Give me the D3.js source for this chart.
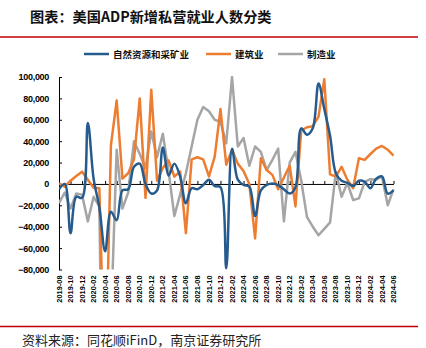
<!DOCTYPE html>
<html>
<head>
<meta charset="utf-8">
<script src="https://cdn.jsdelivr.net/npm/d3@7"></script>
<style>
  html, body { margin: 0; padding: 0; background: #fff; }
  svg { display: block; }
</style>
</head>
<body>
<svg id="chart" width="426" height="348"></svg>
<script>
// Monthly months, 2019-08 .. 2024-06
const months = [
  "2019-08","2019-09","2019-10","2019-11","2019-12",
  "2020-01","2020-02","2020-03","2020-04","2020-05","2020-06","2020-07","2020-08","2020-09","2020-10","2020-11","2020-12",
  "2021-01","2021-02","2021-03","2021-04","2021-05","2021-06","2021-07","2021-08","2021-09","2021-10","2021-11","2021-12",
  "2022-01","2022-02","2022-03","2022-04","2022-05","2022-06","2022-07","2022-08","2022-09","2022-10","2022-11","2022-12",
  "2023-01","2023-02","2023-03","2023-04","2023-05","2023-06","2023-07","2023-08","2023-09","2023-10","2023-11","2023-12",
  "2024-01","2024-02","2024-03","2024-04","2024-05","2024-06"
];

// Monthly change in private payrolls (persons)
const mining = [
  -5000, 0, -46000, -12000, -13000,
  57000, 5000, -22000, -63000, -26000, -34000, -6000, -5000, 16000, 19000, 0, -9000,
  -6000, 34000, 8000, 19000, 7000, -18000, -4000, -5000, -1000, 4000, -2000, -3000,
  -79000, 33000, 4000, -1000, -2500, -30000, -6000, -1000, 500, -1000, -5000, -9000,
  -3000, 52000, 46000, 52000, 94000, 70000, 45000, 10000, 3000, 1000, -2000, 3000,
  2000, -4000, 5000, 7000, -9000, -6000
];

const construction = [
  500, -2500, 3000, 7500, 11500,
  4000, -3500, -4000, -200000, 36000, 78000, 5000, 10000, 23000, 80000, -13000, 88000,
  3000, 15000, 22000, 7000, 11500, -46000, 23000, 25000, 23000, 7000, 25500, 70000,
  18000, 32000, 19000, 12000, 0, -51000, 24000, 13000, 8500, -5000, 6000, 17000,
  -21000, 50000, 53000, 54000, 63000, 98000, 9000, 7000, 16000, 4000, -4000, 24000,
  22500, 28000, 33000, 35500, 32000, 26500
];

const manufacturing = [
  -18000, -8000, -23000, -9000, -10000,
  -35000, -12000, -21000, -400000, -130000, 32000, -23000, -8000, 40000, 28000, 15000, 49000,
  25000, 47000, 12000, -30000, -10000, 10000, 35000, 60000, 72000, 68000, 60000, 58000,
  38000, 100000, 35000, 43000, 17000, 35000, 30000, 13000, 22500, 33000, -35000, 20000,
  30000, 3000, -31000, -40000, -48000, -42000, -36000, 11000, -12000, 1000, -15000, -13500,
  2000, 4500, 4000, 7000, -20000, -5000
];

const yTicks = [-80000, -60000, -40000, -20000, 0, 20000, 40000, 60000, 80000, 100000];
const xTickLabels = months.filter((m, i) => i % 2 === 0);

const seriesNames = ["自然资源和采矿业", "建筑业", "制造业"];
const seriesColors = ["#265b8d", "#ed7d31", "#a5a5a5"];

const svg = d3.select("#chart");
const plot = { left: 59, right: 393.5, top: 77, bottom: 269.5 };

const x = d3.scalePoint().domain(months).range([plot.left, plot.right]);
const y = d3.scaleLinear().domain([-80000, 100000]).range([plot.bottom, plot.top]);

// Title
svg.append("text")
  .attr("x", 30).attr("y", 22)
  .attr("font-family", "'Noto Sans CJK SC', sans-serif")
  .attr("font-weight", 700)
  .attr("font-size", 14.2)
  .attr("fill", "#111")
  .text("图表：美国ADP新增私营就业人数分类");

// Red rules
svg.append("line").attr("x1", 0).attr("x2", 418).attr("y1", 37).attr("y2", 37)
  .attr("stroke", "#c00000").attr("stroke-width", 1.5);
svg.append("line").attr("x1", 0).attr("x2", 418).attr("y1", 326.5).attr("y2", 326.5)
  .attr("stroke", "#c00000").attr("stroke-width", 1.5);

// Legend
const legendX = [84, 206, 278];
const legend = svg.append("g");
seriesNames.forEach((name, i) => {
  legend.append("line")
    .attr("x1", legendX[i]).attr("x2", legendX[i] + 25)
    .attr("y1", 54).attr("y2", 54)
    .attr("stroke", seriesColors[i]).attr("stroke-width", 2.5);
  legend.append("text")
    .attr("x", legendX[i] + 29).attr("y", 57.5)
    .attr("font-family", "'Noto Sans CJK SC', sans-serif")
    .attr("font-weight", 700)
    .attr("font-size", 9.5)
    .attr("fill", "#111")
    .text(name);
});

// Y axis
const yAxis = svg.append("g")
  .attr("transform", `translate(${plot.left},0)`)
  .call(d3.axisLeft(y).tickValues(yTicks).tickFormat(d3.format(",")).tickSizeInner(-3).tickSizeOuter(0).tickPadding(10));
yAxis.select(".domain").attr("stroke", "#000").attr("stroke-width", 1);
yAxis.selectAll(".tick line").attr("stroke", "#000");
yAxis.selectAll(".tick text")
  .attr("font-family", "'Liberation Sans', Arial, sans-serif")
  .attr("font-weight", 700)
  .attr("font-size", 9)
  .attr("letter-spacing", -0.3)
  .attr("fill", "#000");

// X axis along zero
const xAxis = svg.append("g")
  .attr("transform", `translate(0,${y(0)})`)
  .call(d3.axisBottom(x).tickValues(xTickLabels).tickSizeInner(-3).tickSizeOuter(0).tickFormat(""));
xAxis.select(".domain").attr("stroke", "#000").attr("stroke-width", 1);
xAxis.selectAll(".tick line").attr("stroke", "#000");

// Month labels at the bottom of the plot
svg.append("g").selectAll("text")
  .data(xTickLabels)
  .join("text")
  .attr("transform", d => `translate(${x(d) + 2.6},${plot.bottom + 6}) rotate(-90)`)
  .attr("text-anchor", "end")
  .attr("font-family", "'Liberation Sans', Arial, sans-serif")
  .attr("font-weight", 700)
  .attr("font-size", 7.4)
  .attr("fill", "#000")
  .text(d => d);

// Clip to plot area
svg.append("defs").append("clipPath").attr("id", "plotClip")
  .append("rect")
  .attr("x", plot.left).attr("y", plot.top - 3)
  .attr("width", plot.right - plot.left + 3)
  .attr("height", plot.bottom - plot.top + 3);

const g = svg.append("g").attr("clip-path", "url(#plotClip)");

const straight = d3.line().x((d, i) => x(months[i])).y(d => y(d));
const smooth = d3.line().x((d, i) => x(months[i])).y(d => y(d)).curve(d3.curveCatmullRom.alpha(0.5));

g.append("path").datum(manufacturing)
  .attr("d", straight).attr("fill", "none")
  .attr("stroke", seriesColors[2]).attr("stroke-width", 2.5).attr("stroke-linejoin", "round");
g.append("path").datum(construction)
  .attr("d", straight).attr("fill", "none")
  .attr("stroke", seriesColors[1]).attr("stroke-width", 2.5).attr("stroke-linejoin", "round");
g.append("path").datum(mining)
  .attr("d", smooth).attr("fill", "none")
  .attr("stroke", seriesColors[0]).attr("stroke-width", 2.5).attr("stroke-linejoin", "round");

// Source note
svg.append("text")
  .attr("x", 22).attr("y", 345)
  .attr("font-family", "'Noto Sans CJK SC', sans-serif")
  .attr("font-size", 13)
  .attr("fill", "#222")
  .text("资料来源：同花顺iFinD，南京证券研究所");
</script>
</body>
</html>
